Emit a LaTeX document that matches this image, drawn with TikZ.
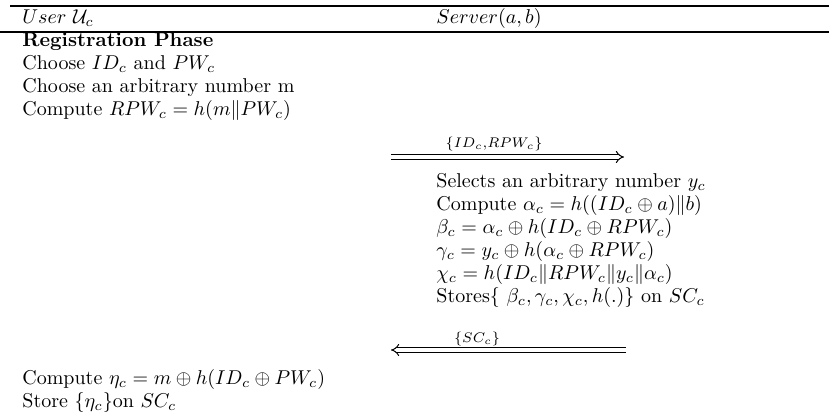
\documentclass[tikz,border=0pt]{standalone}
\usetikzlibrary{arrows.meta}
\begin{document}
\begin{tikzpicture}[x=0.5pt,y=-0.5pt,
  txt/.style={anchor=base west,inner sep=0pt,text depth=0pt,font=\fontsize{10}{12}\selectfont},
  lbl/.style={anchor=base,inner sep=0pt,font=\fontsize{7}{8}\selectfont},
  msg/.style={double,double distance=1.6pt,line width=0.5pt}]
\useasboundingbox (0,0) rectangle (829,416);
% rules
\coordinate (r1a) at (10,6); \coordinate (r1b) at (829,6);
\coordinate (r2a) at (0,32); \coordinate (r2b) at (829,32);
\draw[line width=0.6pt] (r1a) -- (r1b);
\draw[line width=0.6pt] (r2a) -- (r2b);
% headers
\node[txt] (hu) at (22,24) {$User\ \mathcal{U}_c$};
\node[txt] (hs) at (436,24) {$Server(a,b)$};
% user side
\node[txt] (u1) at (22,47) {\textbf{Registration Phase}};
\node[txt] (u2) at (22,70) {Choose $ID_c$ and $PW_c$};
\node[txt] (u3) at (22,93) {Choose an arbitrary number m};
\node[txt] (u4) at (22,116) {Compute $RPW_c=h(m\|PW_c)$};
% message 1
\coordinate (m1s) at (391,157); \coordinate (m1e) at (624,157);
\draw[msg,-{Implies}] (m1s) -- (m1e);
\node[lbl] (l1) at (494,148) {$\{ID_c{,}RPW_c\}$};
% server side
\node[txt] (s1) at (436,188) {Selects an arbitrary number $y_c$};
\node[txt] (s2) at (436,211) {Compute $\alpha_c=h((ID_c\oplus a)\|b)$};
\node[txt] (s3) at (436,234) {$\beta_c=\alpha_c\oplus h(ID_c\oplus RPW_c)$};
\node[txt] (s4) at (436,257) {$\gamma_c=y_c\oplus h(\alpha_c\oplus RPW_c)$};
\node[txt] (s5) at (436,280) {$\chi_c=h(ID_c\|RPW_c\|y_c\|\alpha_c)$};
\node[txt] (s6) at (436,303) {Stores\{ $\beta_c,\gamma_c,\chi_c,h(.)\}$ on $SC_c$};
% message 2
\coordinate (m2s) at (626,350); \coordinate (m2e) at (391,350);
\draw[msg,-{Implies}] (m2s) -- (m2e);
\node[lbl] (l2) at (477,343) {$\{SC_c\}$};
% user side end
\node[txt] (u5) at (22,385) {Compute $\eta_c=m\oplus h(ID_c\oplus PW_c)$};
\node[txt] (u6) at (22,408) {Store $\{\eta_c\}$on $SC_c$};
\end{tikzpicture}
\end{document}
